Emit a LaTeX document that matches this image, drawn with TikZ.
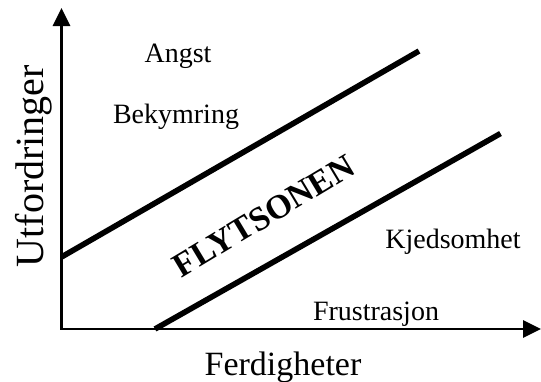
\documentclass[tikz,border=0pt]{standalone}
\usepackage{fontspec}
\setmainfont{Liberation Serif}
\usetikzlibrary{arrows.meta,positioning}
\tikzset{
  axis/.style={line width=1.4pt,{Triangle[length=9pt,width=8.5pt]}-{Triangle[length=9pt,width=8.5pt]}},
  grense/.style={line width=2.8pt},
  sone/.style={font=\fontsize{14}{17}\selectfont,inner sep=0pt,anchor=base}
}
\begin{document}
\begin{tikzpicture}[x=0.5pt,y=-0.5pt]
  \useasboundingbox (0,0) rectangle (541,381);
  % axes
  \coordinate (origo) at (61.5,329);
  \coordinate (ytopp) at (61.5,8);
  \coordinate (xslutt) at (541,329);
  \draw[axis] (ytopp) -- (origo) -- (xslutt);
  \node[font=\fontsize{20}{24}\selectfont,rotate=90,inner sep=0pt,anchor=base] (utf) at (43,166) {Utfordringer};
  \node[font=\fontsize{17}{20}\selectfont,inner sep=0pt,anchor=base] (ferd) at (283,375) {Ferdigheter};
  % flow channel
  \coordinate (ovre1) at (61.5,257);
  \coordinate (ovre2) at (419,51);
  \coordinate (nedre1) at (155,329);
  \coordinate (nedre2) at (500.5,133.5);
  \draw[grense] (ovre1) -- (ovre2);
  \draw[grense] (nedre1) -- (nedre2);
  \node[font=\fontsize{17}{20}\selectfont\bfseries,rotate=31,inner sep=0pt] (flyt) at (264,216) {FLYTSONEN};
  % zones
  \node[sone] (angst) at (178,62) {Angst};
  \node[sone] (bekym) at (176,123) {Bekymring};
  \node[sone] (kjed) at (453,248) {Kjedsomhet};
  \node[sone] (frust) at (376,320) {Frustrasjon};
\end{tikzpicture}
\end{document}
